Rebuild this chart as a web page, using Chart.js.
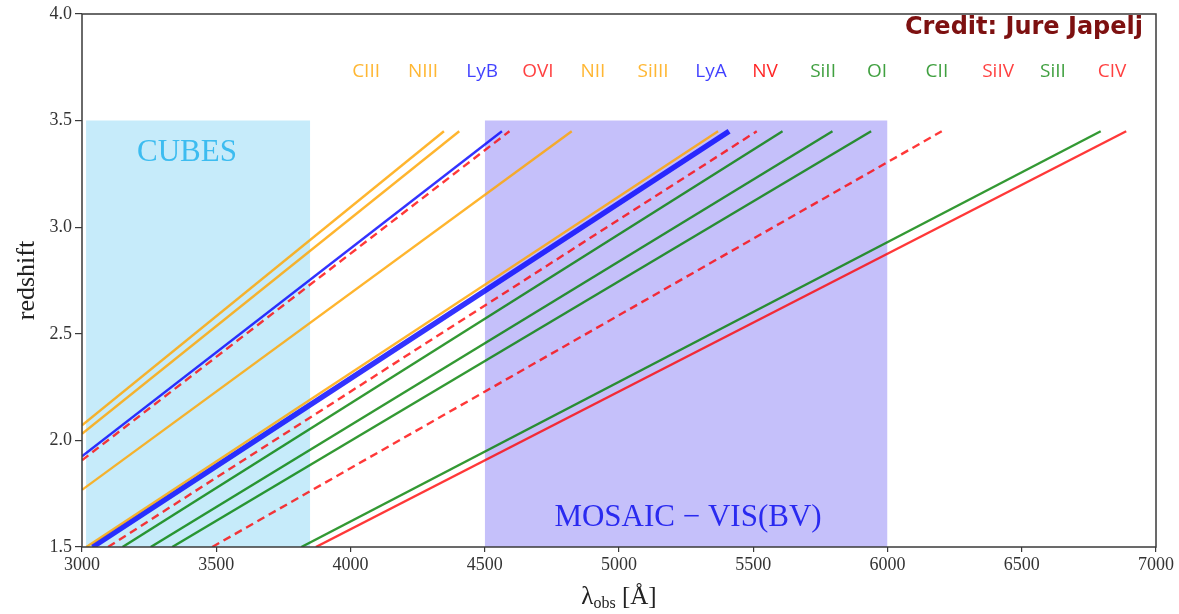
<!DOCTYPE html>
<html lang="en">
<head>
  <meta charset="UTF-8">
  <title>Redshift vs observed wavelength</title>
  <script src="https://cdn.jsdelivr.net/npm/chart.js"></script>
  <style>
    body { margin: 0; background: #fff; }
    #wrap { width: 1179px; height: 614px; }
  </style>
</head>
<body>
  <div id="wrap"><canvas id="zChart" width="1179" height="614"></canvas></div>

  <script>
    // absorption lines: name, start point, end point
    const lineNames = ['CIII', 'NIII', 'LyB', 'OVI', 'NII', 'SiIII', 'LyA', 'NV', 'SiII', 'OI', 'CII', 'SiIV', 'SiII', 'CIV'];
    const startWave = [3000, 3000, 3000, 3000, 3000, 3016, 3039, 3097, 3151, 3256, 3336, 3485, 3817, 3871];
    const startZ    = [2.071, 2.031, 1.925, 1.907, 1.768, 1.5, 1.5, 1.5, 1.5, 1.5, 1.5, 1.5, 1.5, 1.5];
    const endWave   = [4348, 4405, 4564, 4592, 4824, 5369, 5410, 5513, 5609, 5795, 5939, 6202, 6794, 6889];
    const endZ      = [3.45, 3.45, 3.45, 3.45, 3.45, 3.45, 3.45, 3.45, 3.45, 3.45, 3.45, 3.45, 3.45, 3.45];

    // instrument coverage bands
    const cubesRange = [3015, 3850];
    const mosaicRange = [4500, 6000];
    const bandTop = 3.5;

    const xTicks = [3000, 3500, 4000, 4500, 5000, 5500, 6000, 6500, 7000];
    const yTicks = [1.5, 2.0, 2.5, 3.0, 3.5, 4.0];

    // styles
    const ORANGE = 'rgba(255,165,0,0.82)';
    const BLUE = 'rgba(0,0,255,0.8)';
    const RED = 'rgba(255,0,0,0.78)';
    const GREEN = 'rgba(0,128,0,0.8)';
    const lineColors = [ORANGE, ORANGE, BLUE, RED, ORANGE, ORANGE, BLUE, RED, GREEN, GREEN, GREEN, RED, GREEN, RED];
    const lineWidths = [2.4, 2.4, 2.4, 2.4, 2.4, 2.4, 5.5, 2.4, 2.4, 2.4, 2.4, 2.4, 2.4, 2.4];
    const dashed     = [false, false, false, true, false, false, false, true, false, false, false, true, false, false];
    const labelColors = ['rgba(255,165,0,0.8)', 'rgba(255,165,0,0.8)', 'rgba(0,0,255,0.75)', 'rgba(255,0,0,0.75)',
      'rgba(255,165,0,0.8)', 'rgba(255,165,0,0.8)', 'rgba(0,0,255,0.75)', 'rgba(255,0,0,0.85)',
      'rgba(0,128,0,0.75)', 'rgba(0,128,0,0.75)', 'rgba(0,128,0,0.75)', 'rgba(255,0,0,0.75)',
      'rgba(0,128,0,0.75)', 'rgba(255,0,0,0.75)'];
    // where the line names sit along the top (wavelength units)
    const labelX = [4058, 4270, 4490, 4698, 4903, 5127, 5343, 5544, 5760, 5961, 6184, 6412, 6616, 6836];
    const labelZ = 3.728;

    const SERIF = '"Liberation Serif", "DejaVu Serif", serif';

    const datasets = lineNames.map((name, i) => ({
      label: name,
      data: [{ x: startWave[i], y: startZ[i] }, { x: endWave[i], y: endZ[i] }],
      showLine: true,
      borderColor: lineColors[i],
      borderWidth: lineWidths[i],
      borderDash: dashed[i] ? [8, 5] : [],
      pointRadius: 0,
      fill: false,
      order: 1
    }));

    datasets.push({
      label: 'CUBES',
      data: [{ x: cubesRange[0], y: bandTop }, { x: cubesRange[1], y: bandTop }],
      showLine: true,
      borderWidth: 0,
      borderColor: 'rgba(0,0,0,0)',
      backgroundColor: '#c6ebfa',
      pointRadius: 0,
      fill: 'start',
      order: 5
    });
    datasets.push({
      label: 'MOSAIC',
      data: [{ x: mosaicRange[0], y: bandTop }, { x: mosaicRange[1], y: bandTop }],
      showLine: true,
      borderWidth: 0,
      borderColor: 'rgba(0,0,0,0)',
      backgroundColor: '#c5c0fa',
      pointRadius: 0,
      fill: 'start',
      order: 5
    });

    const decorations = {
      id: 'decorations',
      afterDatasetsDraw(chart) {
        const { ctx, chartArea: a, scales: { x, y } } = chart;
        ctx.save();

        // frame
        ctx.strokeStyle = '#3a3a3a';
        ctx.lineWidth = 1.5;
        ctx.strokeRect(a.left, a.top, a.right - a.left, a.bottom - a.top);

        // band captions
        ctx.textAlign = 'center';
        ctx.textBaseline = 'middle';
        ctx.font = '31px ' + SERIF;
        ctx.fillStyle = '#3cbcf0';
        ctx.fillText('CUBES', x.getPixelForValue(3391), y.getPixelForValue(3.348));
        ctx.fillStyle = '#2a2af0';
        ctx.fillText('MOSAIC \u2212 VIS(BV)', x.getPixelForValue(5257), y.getPixelForValue(1.636));

        // line names
        ctx.font = '19px "Open Sans", "DejaVu Sans", sans-serif';
        lineNames.forEach((name, i) => {
          ctx.fillStyle = labelColors[i];
          ctx.fillText(name, x.getPixelForValue(labelX[i]), y.getPixelForValue(labelZ));
        });

        // credit
        ctx.textAlign = 'right';
        ctx.font = 'bold 24px "DejaVu Sans", "Open Sans", sans-serif';
        ctx.fillStyle = '#7d1010';
        ctx.fillText('Credit: Jure Japelj', a.right - 13, a.top + 14);

        // y title
        ctx.save();
        ctx.translate(27, (a.top + a.bottom) / 2);
        ctx.rotate(-Math.PI / 2);
        ctx.font = '26px ' + SERIF;
        ctx.fillStyle = '#222';
        ctx.textAlign = 'center';
        ctx.fillText('redshift', 0, 0);
        ctx.restore();

        // x title with subscript
        const big = '25px ' + SERIF, small = '16px ' + SERIF;
        ctx.textAlign = 'left';
        ctx.textBaseline = 'alphabetic';
        ctx.font = big; const w1 = ctx.measureText('\u03bb').width;
        ctx.font = small; const w2 = ctx.measureText('obs').width;
        ctx.font = big; const w3 = ctx.measureText(' [\u00c5]').width;
        let cx = (a.left + a.right) / 2 - (w1 + w2 + w3) / 2;
        const base = 604;
        ctx.fillStyle = '#222';
        ctx.font = big; ctx.fillText('\u03bb', cx, base); cx += w1;
        ctx.font = small; ctx.fillText('obs', cx, base + 4); cx += w2;
        ctx.font = big; ctx.fillText(' [\u00c5]', cx, base);

        ctx.restore();
      }
    };

    new Chart(document.getElementById('zChart'), {
      type: 'scatter',
      data: { datasets },
      options: {
        responsive: false,
        animation: false,
        layout: { padding: { left: 0, top: 14, right: 23, bottom: 0 } },
        plugins: { legend: { display: false }, tooltip: { enabled: false } },
        scales: {
          x: {
            type: 'linear', min: 3000, max: 7000,
            afterBuildTicks: s => { s.ticks = xTicks.map(v => ({ value: v })); },
            afterFit: s => { s.height = 67; },
            border: { display: false },
            grid: { drawOnChartArea: false, tickLength: 5, color: '#3a3a3a', lineWidth: 1.2 },
            ticks: { color: '#333', font: { family: SERIF, size: 18 }, padding: 2, maxRotation: 0, callback: v => String(v) }
          },
          y: {
            type: 'linear', min: 1.5, max: 4.0,
            afterBuildTicks: s => { s.ticks = yTicks.map(v => ({ value: v })); },
            afterFit: s => { s.width = 82; },
            border: { display: false },
            grid: { drawOnChartArea: false, tickLength: 7, color: '#3a3a3a', lineWidth: 1.2 },
            ticks: { color: '#333', font: { family: SERIF, size: 18 }, padding: 3, callback: v => v.toFixed(1) }
          }
        }
      },
      plugins: [decorations]
    });
  </script>
</body>
</html>
